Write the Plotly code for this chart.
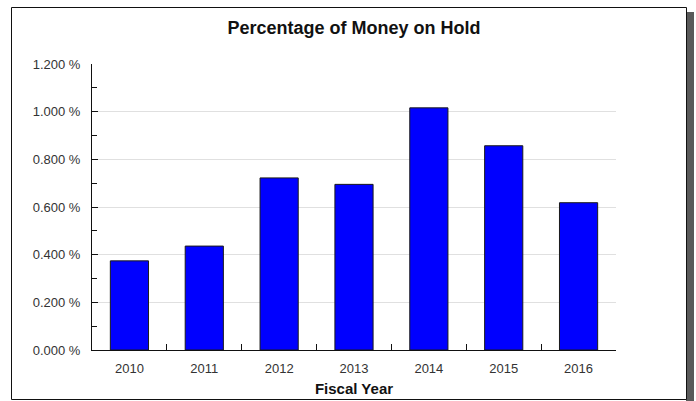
import plotly.graph_objects as go

years = ["2010", "2011", "2012", "2013", "2014", "2015", "2016"]
pct_on_hold = [0.374, 0.436, 0.722, 0.695, 1.016, 0.857, 0.618]
y_ticks = [0.0, 0.2, 0.4, 0.6, 0.8, 1.0, 1.2]
y_tick_text = [f"{v:.3f} %" for v in y_ticks]

W, H = 696, 401
L, R, T, B = 92, 616, 64, 350

def px(x):
    return (x - L) / (R - L)

def py(y):
    return (B - y) / (B - T)

fig = go.Figure()
fig.add_trace(go.Bar(
    x=years, y=pct_on_hold,
    marker=dict(color="#0000FF", line=dict(color="#1a1a1a", width=1)),
    hoverinfo="x+y",
))

shapes = [
    # shadow
    dict(type="rect", xref="paper", yref="paper", x0=px(686), x1=px(694), y0=py(402), y1=py(12),
         fillcolor="#5a5a5a", line=dict(width=0), layer="below"),
    # frame
    dict(type="rect", xref="paper", yref="paper", x0=px(11.5), x1=px(686.5), y0=py(399.5), y1=py(7.5),
         fillcolor="white", line=dict(color="#111111", width=1), layer="below"),
]

fig.update_layout(
    width=W, height=H,
    margin=dict(l=L, r=W - R, t=T, b=H - B, pad=0, autoexpand=False),
    paper_bgcolor="white", plot_bgcolor="rgba(0,0,0,0)",
    font=dict(family="Liberation Sans, Arial, sans-serif", color="#333333", size=12),
    title=dict(text="<b>Percentage of Money on Hold</b>", x=0.5, xref="paper", xanchor="center",
               y=1 - 28 / H, yanchor="middle", font=dict(size=18, color="#111111")),
    bargap=0.49,
    showlegend=False,
    shapes=shapes,
    xaxis=dict(
        type="category", showline=True, linecolor="#111111", linewidth=1,
        ticks="inside", tickson="boundaries", ticklen=6, tickcolor="#111111",
        showgrid=False, tickfont=dict(size=13, color="#333333"),
        ticklabelstandoff=6, automargin=False,
        title=dict(text="<b>Fiscal Year</b>", font=dict(size=15, color="#111111"), standoff=8),
        fixedrange=True,
    ),
    yaxis=dict(
        range=[0, 1.2], tickvals=y_ticks, ticktext=y_tick_text,
        showline=True, linecolor="#111111", linewidth=1,
        ticks="inside", ticklen=6, tickcolor="#111111",
        minor=dict(dtick=0.1, ticks="inside", ticklen=5, tickcolor="#111111", showgrid=False),
        showgrid=True, gridcolor="#e0e0e0", gridwidth=1,
        zeroline=False, tickfont=dict(size=13, color="#333333"),
        ticklabelstandoff=8, automargin=False, fixedrange=True,
    ),
)

fig.write_html(
    "out.html",
    config={"displayModeBar": False},
    post_script="document.body.style.margin='0';document.body.style.overflow='hidden';",
)
